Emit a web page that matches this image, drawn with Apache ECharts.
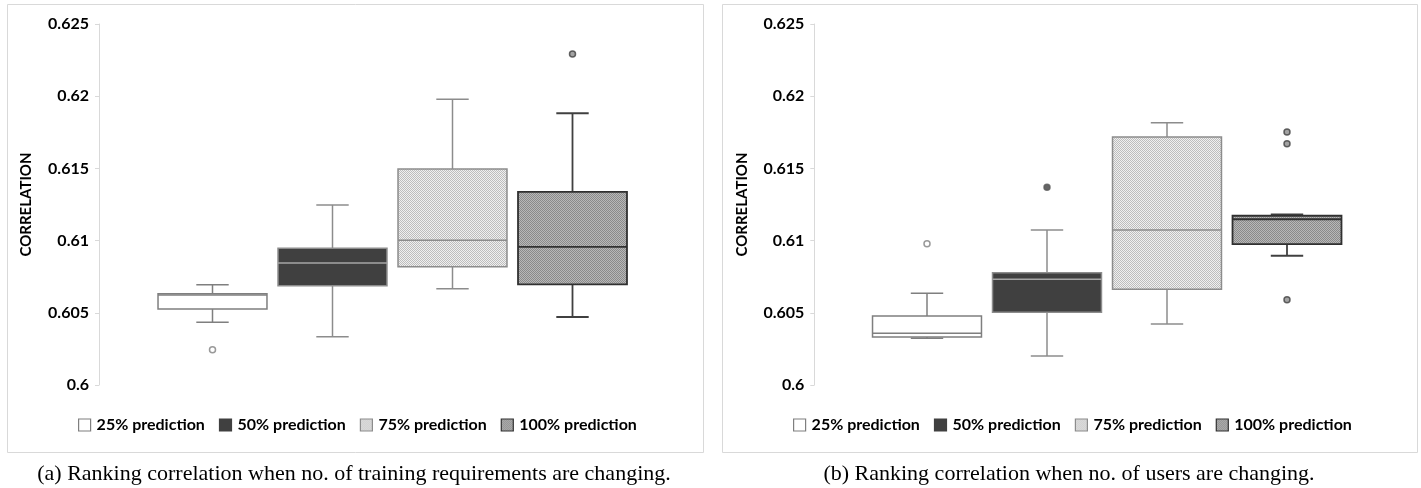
<!DOCTYPE html>
<html>
<head>
<meta charset="utf-8">
<script src="https://cdn.jsdelivr.net/npm/echarts@6/dist/echarts.min.js"></script>
<style>html,body{margin:0;padding:0;background:#fff}#c{width:1421px;height:488px}</style>
</head>
<body>
<div id="c"></div>
<script>
// ---- data ----
const categories = ['25% prediction', '50% prediction', '75% prediction', '100% prediction'];
const yTicks = [0.6, 0.605, 0.61, 0.615, 0.62, 0.625];
const yTitle = 'CORRELATION';
const captionA = '(a) Ranking correlation when no. of training requirements are changing.';
const captionB = '(b) Ranking correlation when no. of users are changing.';
// each box: [min, Q1, median, Q3, max]
const boxesA = [
  [0.60434, 0.60526, 0.60623, 0.60632, 0.60695],
  [0.60335, 0.60688, 0.60845, 0.60947, 0.61247],
  [0.60667, 0.60819, 0.61002, 0.61496, 0.61979],
  [0.60471, 0.60697, 0.60956, 0.61337, 0.61882]
];
const outliersA = [[0.60244], [], [], [0.62292]];
const boxesB = [
  [0.60323, 0.60332, 0.60358, 0.60478, 0.60635],
  [0.60201, 0.60503, 0.60732, 0.60778, 0.61073],
  [0.60422, 0.60663, 0.61073, 0.61717, 0.61816],
  [0.60895, 0.60976, 0.61148, 0.61172, 0.61182]
];
const outliersB = [[0.60979], [0.61369], [], [0.61752, 0.61671, 0.60591]];

// ---- patterns ----
function makePattern(c1, c2) {
  const cv = document.createElement('canvas');
  cv.width = 2; cv.height = 2;
  const ctx = cv.getContext('2d');
  ctx.fillStyle = c1; ctx.fillRect(0, 0, 2, 2);
  ctx.fillStyle = c2; ctx.fillRect(0, 0, 1, 1); ctx.fillRect(1, 1, 1, 1);
  return { image: cv, repeat: 'repeat' };
}
const styles = [
  { fill: '#ffffff', stroke: '#7f7f7f', whisker: '#7f7f7f', median: '#7f7f7f', lw: 1.5, oFill: '#ffffff', oStroke: '#7f7f7f', legendStroke: '#7f7f7f' },
  { fill: '#404040', stroke: '#8c8c8c', whisker: '#8c8c8c', median: '#a6a6a6', lw: 1.5, oFill: '#404040', oStroke: '#595959', legendStroke: '#404040' },
  { fill: makePattern('#f0f0f0', '#bdbdbd'), stroke: '#8c8c8c', whisker: '#8c8c8c', median: '#8c8c8c', lw: 1.5, oFill: '#bfbfbf', oStroke: '#7f7f7f', legendStroke: '#8c8c8c' },
  { fill: makePattern('#b8b8b8', '#8a8a8a'), stroke: '#303030', whisker: '#404040', median: '#303030', lw: 1.8, oFill: '#8c8c8c', oStroke: '#404040', legendStroke: '#303030' }
];

function renderBox(st) {
  return function (params, api) {
    const x = api.value(0);
    const lo = api.coord([x, api.value(1)]);
    const q1 = api.coord([x, api.value(2)]);
    const md = api.coord([x, api.value(3)]);
    const q3 = api.coord([x, api.value(4)]);
    const hi = api.coord([x, api.value(5)]);
    const band = api.size([1, 0])[0];
    const bw = band * 0.908, cw = band * 0.27;
    const cx = lo[0];
    const ls = { stroke: st.whisker, lineWidth: st.lw };
    return {
      type: 'group',
      children: [
        { type: 'line', shape: { x1: cx, y1: hi[1], x2: cx, y2: q3[1] }, style: ls },
        { type: 'line', shape: { x1: cx, y1: q1[1], x2: cx, y2: lo[1] }, style: ls },
        { type: 'line', shape: { x1: cx - cw / 2, y1: hi[1], x2: cx + cw / 2, y2: hi[1] }, style: ls },
        { type: 'line', shape: { x1: cx - cw / 2, y1: lo[1], x2: cx + cw / 2, y2: lo[1] }, style: ls },
        { type: 'rect', shape: { x: cx - bw / 2, y: q3[1], width: bw, height: q1[1] - q3[1] }, style: { fill: st.fill, stroke: st.stroke, lineWidth: st.lw } },
        { type: 'line', shape: { x1: cx - bw / 2, y1: md[1], x2: cx + bw / 2, y2: md[1] }, style: { stroke: st.median, lineWidth: st.lw } }
      ]
    };
  };
}

const panels = [
  { boxes: boxesA, outliers: outliersA, gridLeft: 152.5, axisX: 99, legendLeft: 73, frame: [7, 4, 696, 448], capX: 354, caption: captionA },
  { boxes: boxesB, outliers: outliersB, gridLeft: 867, axisX: 814.3, legendLeft: 788, frame: [722, 4, 695, 448], capX: 1069, caption: captionB }
];

const grid = [], xAxis = [], yAxis = [], series = [], legend = [], graphic = [];
panels.forEach((p, pi) => {
  grid.push({ left: p.gridLeft, top: 24, width: 480, height: 361 });
  xAxis.push({ type: 'category', gridIndex: pi, data: categories, show: false });
  yAxis.push({
    type: 'value', gridIndex: pi, min: yTicks[0], max: yTicks[yTicks.length - 1], interval: 0.005,
    offset: p.gridLeft - p.axisX,
    name: yTitle, nameLocation: 'middle', nameGap: 65,
    nameTextStyle: { fontFamily: 'Lato', fontWeight: 'bold', fontSize: 15, color: '#000' },
    axisLine: { show: true, lineStyle: { color: '#d9d9d9', width: 1 } },
    axisTick: { show: true, length: 4, lineStyle: { color: '#d9d9d9' } },
    splitLine: { show: false },
    axisLabel: { margin: 10, fontFamily: 'Lato', fontWeight: 'bold', fontSize: 16, color: '#000',
      formatter: v => String(parseFloat(v.toFixed(3))) }
  });
  categories.forEach((c, i) => {
    const st = styles[i];
    series.push({
      type: 'custom', name: c, xAxisIndex: pi, yAxisIndex: pi,
      renderItem: renderBox(st),
      encode: { x: 0, y: [1, 2, 3, 4, 5] },
      itemStyle: { color: st.fill, borderColor: st.stroke },
      data: [[i].concat(p.boxes[i])],
      silent: true
    });
    if (p.outliers[i].length) {
      series.push({
        type: 'scatter', xAxisIndex: pi, yAxisIndex: pi, symbol: 'circle', symbolSize: 6,
        itemStyle: { color: st.oFill, borderColor: st.oStroke, borderWidth: 1.5 },
        data: p.outliers[i].map(v => [i, v]), silent: true
      });
    }
  });
  legend.push({
    left: p.legendLeft, top: 412, itemWidth: 12, itemHeight: 12, itemGap: 14,
    selectedMode: false,
    textStyle: { fontFamily: 'Lato', fontWeight: 'bold', fontSize: 16, color: '#000', padding: [0, 0, 0, 1] },
    data: categories.map((c, i) => ({ name: c, icon: 'rect',
      itemStyle: { color: styles[i].fill, borderColor: styles[i].legendStroke, borderWidth: 1.2 } }))
  });
  graphic.push({ type: 'rect', shape: { x: p.frame[0] + 0.5, y: p.frame[1] + 0.5, width: p.frame[2], height: p.frame[3] },
    style: { fill: 'none', stroke: '#d9d9d9', lineWidth: 1 }, silent: true, z: -1 });
  graphic.push({ type: 'text', x: p.capX, y: 474, style: { text: p.caption, textAlign: 'center', textVerticalAlign: 'middle',
    font: '22px "Liberation Serif"', fill: '#000' }, silent: true });
});

const chart = echarts.init(document.getElementById('c'), null, { renderer: 'canvas' });
chart.setOption({
  animation: false,
  backgroundColor: '#ffffff',
  grid, xAxis, yAxis, series, legend, graphic
});
</script>
</body>
</html>
